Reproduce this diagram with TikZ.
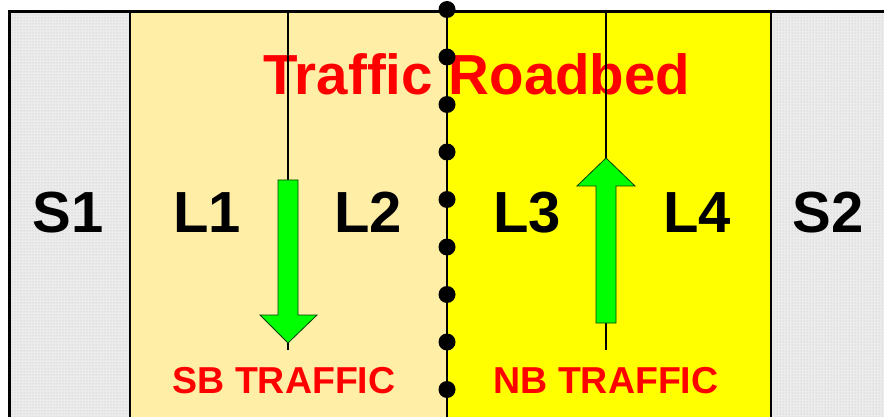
\documentclass[tikz,border=0pt]{standalone}
\usepackage{fontspec}
\setmainfont{Liberation Sans}
\usetikzlibrary{patterns}
\definecolor{lanetan}{RGB}{255,238,166}
\definecolor{laneyel}{RGB}{255,255,0}
\definecolor{arrowgreen}{RGB}{0,255,0}
\definecolor{trafred}{RGB}{255,0,0}
\definecolor{shouldergray}{RGB}{236,236,236}

\begin{document}
\begin{tikzpicture}[x=1pt,y=-1pt,
  lanelabel/.style={font=\bfseries\fontsize{58}{60}\selectfont, inner sep=0pt, anchor=base},
  titlelabel/.style={font=\bfseries\fontsize{56.5}{60}\selectfont, text=trafred, inner sep=0pt, anchor=base},
  dirlabel/.style={font=\bfseries\fontsize{37.5}{40}\selectfont, text=trafred, inner sep=0pt, anchor=base},
  blockarrow/.style={fill=arrowgreen, draw=black!75!green, line width=0.8pt, line join=miter},
  laneline/.style={line width=2pt},
  stripe/.style={circle, fill=black, inner sep=0pt, minimum size=17pt}
]
\useasboundingbox (0,0) rectangle (884,417);

% shoulders and lanes
\fill[shouldergray] (9,12) rectangle (130,417);
\fill[shouldergray] (771,12) rectangle (884,417);
\fill[pattern=dots, pattern color=gray!55] (9,12) rectangle (130,417);
\fill[pattern=dots, pattern color=gray!55] (771,12) rectangle (884,417);
\fill[lanetan] (130,12) rectangle (447,417);
\fill[laneyel] (447,12) rectangle (771,417);

% labels
\node[titlelabel] (title) at (477,95) {Traffic Roadbed};
\node[lanelabel] (s1) at (68,233) {S1};
\node[lanelabel] (l1) at (207,233) {L1};
\node[lanelabel] (l2) at (368,233) {L2};
\node[lanelabel] (l3) at (527,233) {L3};
\node[lanelabel] (l4) at (697,233) {L4};
\node[lanelabel] (s2) at (828,233) {S2};
\node[dirlabel] (sb) at (284,393) {SB TRAFFIC};
\node[dirlabel] (nb) at (606,393) {NB TRAFFIC};

% edges
\draw[line width=3pt] (9,417) -- (9,12) -- (884,12);
\draw[laneline] (130,12) -- (130,417);
\draw[laneline] (771,12) -- (771,417);
\draw[line width=2.5pt] (447,12) -- (447,417);

% lane centre lines
\draw[laneline] (288,12) -- (288,350);
\draw[laneline] (606,12) -- (606,350);

% direction arrows
\draw[blockarrow] (278,180) -- (298,180) -- (298,315) -- (317,315) -- (288,343)
  -- (260,315) -- (278,315) -- cycle;
\draw[blockarrow] (596,323) -- (616,323) -- (616,186) -- (635,186) -- (606,158)
  -- (577,186) -- (596,186) -- cycle;

% centre stripe markers
\foreach \i in {0,...,8}
  \node[stripe] (dot\i) at (447,{9.5+47.5*\i}) {};
\end{tikzpicture}
\end{document}
